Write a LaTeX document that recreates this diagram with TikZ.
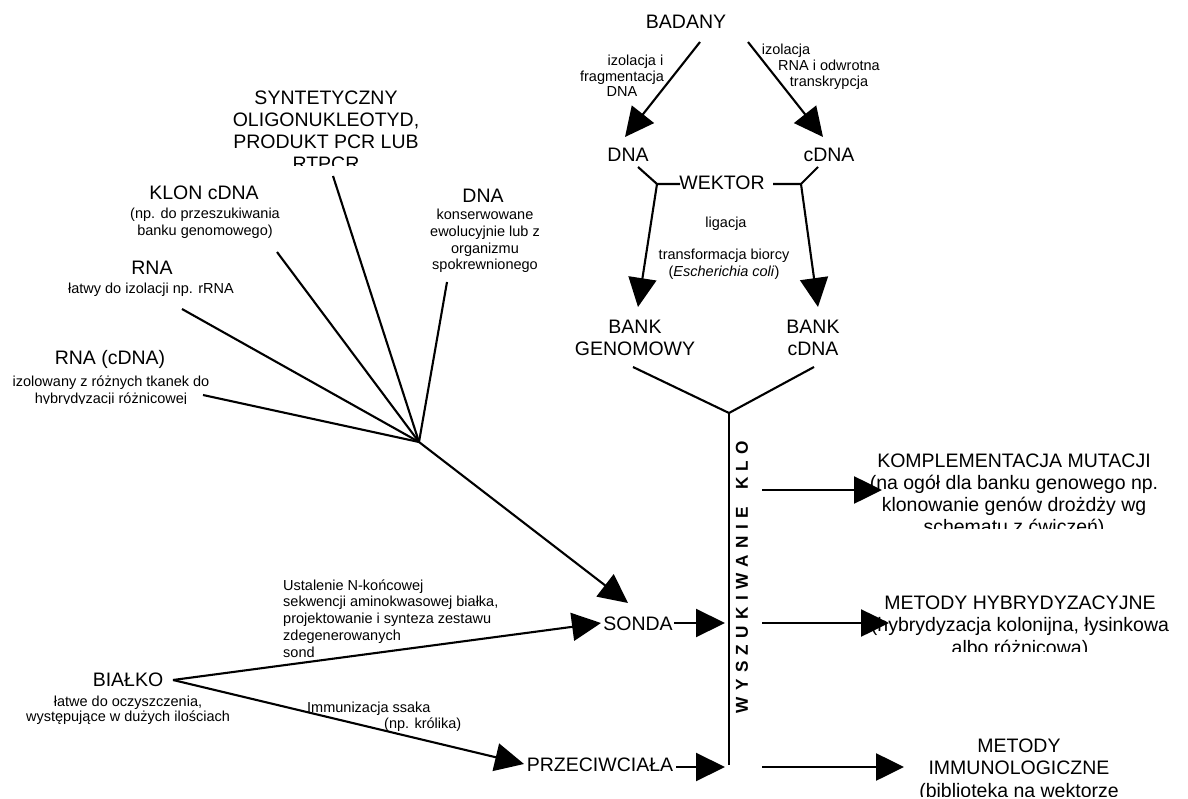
\documentclass[tikz,border=0pt]{standalone}
\usepackage{fontspec}
\setmainfont{Liberation Sans}
\usetikzlibrary{arrows.meta}
\newcommand\lspc{\hspace{6.3pt}}
\begin{document}
\begin{tikzpicture}[x=1pt,y=-1pt,
  big/.style={font=\fontsize{19.5}{21.5}\selectfont, inner sep=0pt, align=center, anchor=base},
  small/.style={font=\fontsize{14.5}{16.7}\selectfont, inner sep=0pt, align=center, anchor=base},
  ln/.style={line width=2.1pt},
  arr/.style={line width=2.1pt, -{Triangle[length=29pt,width=28pt]}},
  rarr/.style={line width=2.6pt, -{Triangle[length=28pt,width=27pt]}},
]
\useasboundingbox[fill=white] (0,0) rectangle (1188,799);

% ---------- top right ----------
\node[big] (badany) at (686,29) {BADANY};
\node[big] (dna) at (628,162) {DNA};
\node[big] (cdna) at (829,162) {cDNA};
\node[big] (wektor) at (722,190) {WEKTOR};
\node[big] (bankg) at (635,355.5) {BANK\\GENOMOWY};
\node[big] (bankc) at (813,355.5) {BANK\\cDNA};
\node[small, font=\fontsize{14.5}{15.5}\selectfont] (lab1) at (622,97) {\hspace*{27pt}izolacja i\\fragmentacja\\DNA};
\node[small, font=\fontsize{14.5}{16}\selectfont] (lab2) at (829,87) {izolacja\hspace*{86pt}\\RNA i odwrotna\\transkrypcja};
\node[small] (lig) at (726,228) {ligacja};
\node[small, font=\fontsize{14.5}{17}\selectfont] (transf) at (724,277) {transformacja biorcy\\(\textit{Escherichia coli})};

\coordinate (b1) at (700,42);
\coordinate (b2) at (748,42);
\coordinate (t1) at (625,137);
\coordinate (t2) at (823,137);
\draw[arr] (b1) -- (t1);
\draw[arr] (b2) -- (t2);

\coordinate (d1) at (638,167);
\coordinate (j1) at (657,184);
\coordinate (w1) at (680,184);
\coordinate (c1) at (818,167);
\coordinate (j2) at (801,184);
\coordinate (w2) at (773,184);
\draw[ln] (d1) -- (j1) -- (w1);
\draw[ln] (c1) -- (j2) -- (w2);
\coordinate (t3) at (638,307);
\coordinate (t4) at (818,307);
\draw[arr] (j1) -- (t3);
\draw[arr] (j2) -- (t4);

\coordinate (g1) at (633,367);
\coordinate (g2) at (814,367);
\coordinate (v1) at (729,413);
\coordinate (v2) at (729,765);
\draw[ln] (g1) -- (v1) -- (g2);
\draw[ln] (v1) -- (v2);

\node[font=\fontsize{17.2}{19}\selectfont\bfseries, rotate=90, inner sep=0pt] (wysz) at (742,577)
  {W\lspc Y\lspc S\lspc Z\lspc U\lspc K\lspc I\lspc W\lspc A\lspc N\lspc I\lspc E\lspc\ \lspc K\lspc L\lspc O};

% ---------- left fan ----------
\begin{scope}
\clip (200,75) rectangle (460,165.5);
\node[big, font=\fontsize{19.5}{22}\selectfont] (syn) at (326,171) {SYNTETYCZNY\\OLIGONUKLEOTYD,\\PRODUKT PCR LUB\\RTPCR};
\end{scope}
\node[big] (klon) at (204,200) {KLON cDNA};
\node[small, font=\fontsize{14.5}{17}\selectfont] (klonsub) at (205,236) {(np. do przeszukiwania\\banku genomowego)};
\node[big] (rna) at (152,275) {RNA};
\node[small] (rnasub) at (151,294) {łatwy do izolacji np. rRNA};
\node[big] (rnac) at (110,364) {RNA (cDNA)};
\begin{scope}
\clip (0,370) rectangle (240,403);
\node[small, font=\fontsize{14.5}{17}\selectfont] (rncsub) at (111,403) {izolowany z różnych tkanek do\\hybrydyzacji różnicowej};
\end{scope}
\node[big] (dnal) at (483,203) {DNA};
\node[small, font=\fontsize{14.5}{16.7}\selectfont] (dnasub) at (485,270) {konserwowane\\ewolucyjnie lub z\\organizmu\\spokrewnionego};

\coordinate (F) at (419,442);
\coordinate (s1) at (333,176);
\coordinate (k1) at (277,252);
\coordinate (r1) at (182,309);
\coordinate (rc1) at (203,395);
\coordinate (dn1) at (447,282);
\draw[ln] (s1) -- (F);
\draw[ln] (k1) -- (F);
\draw[ln] (r1) -- (F);
\draw[ln] (rc1) -- (F);
\draw[ln] (dn1) -- (F);
\coordinate (ft) at (628,603);
\draw[arr] (F) -- (ft);

% ---------- bottom ----------
\node[big] (sonda) at (638,630) {SONDA};
\node[big] (przec) at (600,771) {PRZECIWCIAŁA};
\node[big] (bialko) at (128,686) {BIAŁKO};
\node[small, font=\fontsize{14.5}{15}\selectfont] (bialkosub) at (128,721) {łatwe do oczyszczenia,\\występujące w dużych ilościach};
\node[small, align=left, anchor=base west] (ust) at (283,657) {Ustalenie N-końcowej\\sekwencji aminokwasowej białka,\\projektowanie i synteza zestawu\\zdegenerowanych\\sond};
\node[small, anchor=base west] (imm) at (307,712) {Immunizacja ssaka};
\node[small, anchor=base west] (krol) at (384,728) {(np. królika)};

\coordinate (bi) at (173,680);
\coordinate (st) at (601,623);
\coordinate (pt) at (524,764);
\draw[arr] (bi) -- (st);
\draw[arr] (bi) -- (pt);
\coordinate (so) at (674,623);
\coordinate (vt1) at (725,623);
\coordinate (po) at (676,767);
\coordinate (vt2) at (725,767);
\draw[arr] (so) -- (vt1);
\draw[arr] (po) -- (vt2);

% ---------- right ----------
\begin{scope}
\clip (850,440) rectangle (1188,528);
\node[big, font=\fontsize{19.5}{22}\selectfont] (kompl) at (1014,533) {KOMPLEMENTACJA MUTACJI\\(na ogół dla banku genowego np.\\klonowanie genów drożdży wg\\schematu z ćwiczeń)};
\end{scope}
\begin{scope}
\clip (850,580) rectangle (1188,651);
\node[big, font=\fontsize{19.5}{22.5}\selectfont] (hybr) at (1020,654) {METODY HYBRYDYZACYJNE\\(hybrydyzacja kolonijna, łysinkowa\\albo różnicowa)};
\end{scope}
\begin{scope}
\clip (850,720) rectangle (1188,796);
\node[big, font=\fontsize{19.5}{22.5}\selectfont] (immu) at (1019,797) {METODY\\IMMUNOLOGICZNE\\(biblioteka na wektorze};
\end{scope}

\coordinate (h1s) at (762,490);
\coordinate (h1t) at (882,490);
\coordinate (h2s) at (762,623);
\coordinate (h2t) at (889,623);
\coordinate (h3s) at (762,767);
\coordinate (h3t) at (904,767);
\draw[rarr] (h1s) -- (h1t);
\draw[rarr] (h2s) -- (h2t);
\draw[rarr] (h3s) -- (h3t);
\end{tikzpicture}
\end{document}
